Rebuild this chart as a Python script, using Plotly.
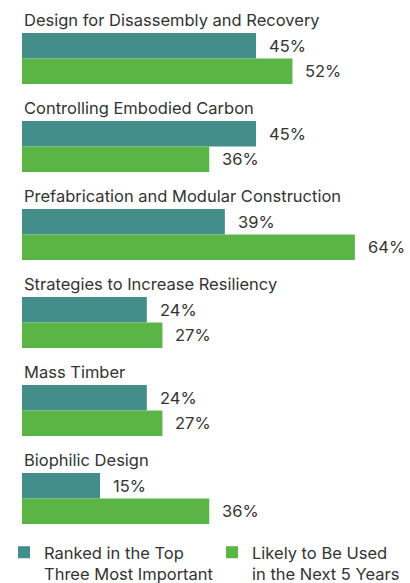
import plotly.graph_objects as go

# Survey results: share of respondents per strategy
strategies = [
    "Design for Disassembly and Recovery",
    "Controlling Embodied Carbon",
    "Prefabrication and Modular Construction",
    "Strategies to Increase Resiliency",
    "Mass Timber",
    "Biophilic Design",
]
top_three = [45, 45, 39, 24, 24, 15]
next_five_years = [52, 36, 64, 27, 27, 36]

series_names = [
    "Ranked in the Top<br>Three Most Important",
    "Likely to Be Used<br>in the Next 5 Years",
]
series_colors = ["#438d8a", "#5ab446"]

FONT = "Inter"
FONT_SIZE = 16.5
TEXT_COLOR = "#333333"
BAR_W = 0.29
OFFSETS = [-0.125, -0.125 + BAR_W]

positions = list(range(len(strategies)))

fig = go.Figure()
for i, (vals, name, color, off) in enumerate(zip([top_three, next_five_years], series_names,
                                                 series_colors, OFFSETS)):
    fig.add_trace(go.Bar(
        x=vals, y=positions, orientation="h", name=name,
        marker=dict(color=color, line=dict(width=0)),
        width=BAR_W, offset=off, hoverinfo="skip",
        legend="legend" if i == 0 else "legend2",
    ))

annotations = []
# group headings above each pair of bars
for pos, label in zip(positions, strategies):
    annotations.append(dict(
        x=0, y=pos - 0.275, xref="x", yref="y", text=label, showarrow=False,
        xanchor="left", yanchor="middle",
        font=dict(family=FONT, size=FONT_SIZE, color=TEXT_COLOR),
    ))
# value labels right of each bar
for vals, off in zip([top_three, next_five_years], OFFSETS):
    for pos, v in zip(positions, vals):
        annotations.append(dict(
            x=v, y=pos + off + BAR_W / 2, xref="x", yref="y", text=f"{v}%",
            showarrow=False, xanchor="left", yanchor="middle", xshift=11,
            font=dict(family=FONT, size=FONT_SIZE, color=TEXT_COLOR),
        ))

legend_common = dict(
    orientation="v", yanchor="top", y=-0.0133, xanchor="left",
    font=dict(family=FONT, size=FONT_SIZE, color=TEXT_COLOR),
    valign="top", itemclick=False, itemdoubleclick=False,
    bgcolor="rgba(0,0,0,0)",
)

fig.update_layout(
    width=410, height=583,
    margin=dict(l=22, r=0, t=0, b=55, autoexpand=False),
    paper_bgcolor="white", plot_bgcolor="white",
    barmode="overlay",
    showlegend=True,
    legend=dict(x=(4 - 22) / 388, **legend_common),
    legend2=dict(x=(212 - 22) / 388, **legend_common),
    xaxis=dict(range=[0, 74.6], visible=False, fixedrange=True),
    yaxis=dict(range=[5.5, -0.5], visible=False, fixedrange=True),
    annotations=annotations,
)

fig.write_html("out.html", config={"displayModeBar": False})
